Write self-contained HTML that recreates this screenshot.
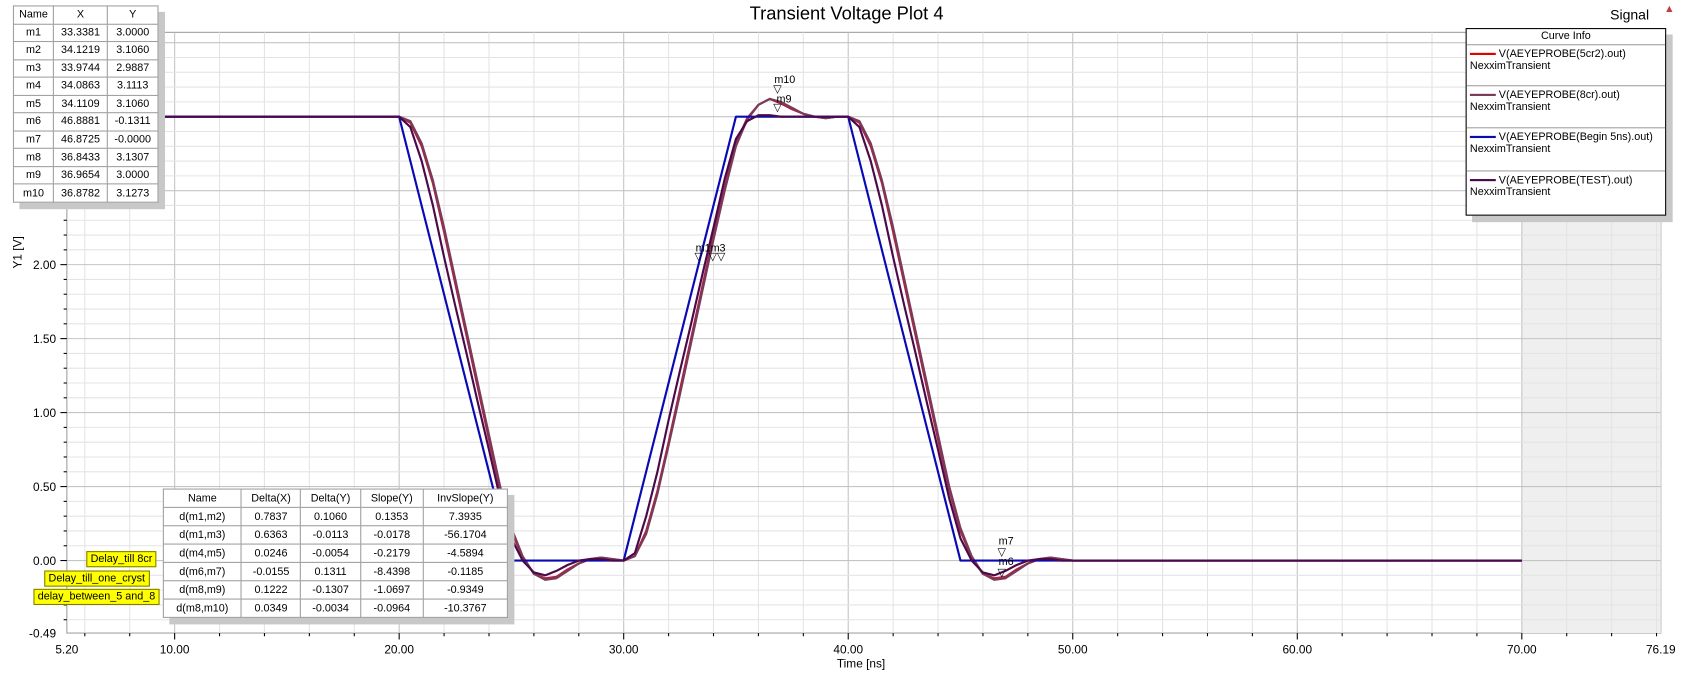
<!DOCTYPE html>
<html><head><meta charset="utf-8"><style>
body{margin:0;background:#fff;font-family:"Liberation Sans",sans-serif;overflow:hidden;width:1691px;height:677px;}
#root{position:absolute;left:0;top:0;width:1568px;height:628px;transform:scale(1.07844);transform-origin:0 0;}
svg{display:block}
.tbl{position:absolute;border-collapse:collapse;background:#fff;font-size:10px;box-shadow:6px 6px 0 #c8c8c8;border:1px solid #000;}
.tbl td{border:1px solid #a0a0a0;text-align:center;padding:0;}
.mk{position:absolute;font-size:10px;}
.yl{position:absolute;background:#ffff00;border:1px solid #808000;font-size:10px;padding:1px 3px;}
</style></head><body>
<div id="root">
<svg id="chart" width="1568" height="628" xmlns="http://www.w3.org/2000/svg" font-family="Liberation Sans, sans-serif">
<rect x="0" y="0" width="1568" height="628" fill="#fff"/>
<g id="grid"></g>
<g id="curves"></g>
<g id="axes"></g>
</svg>
<script>
const xMin=5.2,xMax=76.19,yMin=-0.49,yMax=3.57;
const xTicks=[10,20,30,40,50,60,70];
const xTickLabels=["10.00","20.00","30.00","40.00","50.00","60.00","70.00"];
const yTicks=[0,0.5,1,1.5,2];
const yTickLabels=["0.00","0.50","1.00","1.50","2.00"];
const edgeOffsets=[0,0.5,1,1.5,2,2.5,3,3.5,4,4.5,5,5.5,6,6.5,7,7.5,8,8.5,9,9.5,10];
const edgeTimes=[20,30,40];
const blueT=[5.2,20,25,30,35,40,45,70];
const blueV=[3,3,0,0,3,3,0,0];
const testFall=[3.0,2.93,2.7,2.4,2.05,1.72,1.4,1.07,0.75,0.42,0.15,0.0,-0.08,-0.1,-0.07,-0.03,0,0.01,0.01,0,0];
const testRise=[0,0.05,0.3,0.6,0.95,1.28,1.6,1.93,2.25,2.58,2.85,2.97,3.01,3.01,3.0,3.0,3.0,3.0,3.0,3.0,3.0];
const cr8Fall=[3.0,2.97,2.82,2.57,2.25,1.9,1.55,1.2,0.85,0.5,0.22,0.03,-0.09,-0.13,-0.12,-0.07,-0.02,0.01,0.02,0.01,0];
const cr8Rise=[0,0.03,0.18,0.45,0.78,1.12,1.47,1.82,2.17,2.5,2.8,2.98,3.08,3.12,3.1,3.06,3.02,3.0,2.99,3.0,3.0];
const cr5Fall=[3.0,2.96,2.8,2.55,2.22,1.87,1.52,1.17,0.82,0.48,0.2,0.02,-0.09,-0.12,-0.11,-0.06,-0.02,0.01,0.02,0.01,0];
const cr5Rise=[0,0.03,0.2,0.47,0.8,1.15,1.5,1.85,2.2,2.52,2.82,2.99,3.08,3.12,3.09,3.05,3.02,3.0,2.99,3.0,3.0];

const L=62,R=1540,T=30,B=587;
const sx=v=>L+(v-xMin)/(xMax-xMin)*(R-L);
const sy=v=>B-(v-yMin)/(yMax-yMin)*(B-T);
const NS="http://www.w3.org/2000/svg";
function mk(parent,tag,attrs){const e=document.createElementNS(NS,tag);for(const k in attrs)e.setAttribute(k,attrs[k]);parent.appendChild(e);return e;}
const grid=document.getElementById('grid'),curves=document.getElementById('curves'),axes=document.getElementById('axes');

let pa=mk(grid,'rect',{x:L,y:T,width:R-L,height:B-T,fill:'#fff',stroke:'#a0a0a0'});


let gr=mk(grid,'rect',{x:sx(70),y:T,width:R-sx(70),height:B-T,fill:'#efefef'});


for(let t=6;t<=76;t+=2){const x=sx(t);mk(grid,'line',{x1:x,x2:x,y1:T,y2:B,stroke:t%10===0?'#c4c4c4':'#e4e4e4','stroke-width':1});}
for(let k=-4;k<=35;k++){const y=sy(k/10);mk(grid,'line',{x1:L,x2:R,y1:y,y2:y,stroke:k%5===0?'#c4c4c4':'#e4e4e4','stroke-width':1});}

function edgeSeries(fall,rise){
  const pts=[[xMin,fall[0]]];
  edgeTimes.forEach((t0,i)=>{const arr=i===1?rise:fall;edgeOffsets.forEach((o,j)=>pts.push([t0+o,arr[j]]));});
  pts.push([70,0]);return pts;
}
function drawLine(pts,color,name,w){
  const d=pts.map((p,i)=>(i?'L':'M')+sx(p[0]).toFixed(1)+','+sy(p[1]).toFixed(1)).join('');
  const e=mk(curves,'path',{d:d,fill:'none',stroke:color,'stroke-width':w,'stroke-linejoin':'round'});
  
  
}
drawLine(edgeSeries(cr5Fall,cr5Rise),'#b02040','curve-5cr2',2);
drawLine(edgeSeries(cr8Fall,cr8Rise),'#7a3a5a','curve-8cr',2);
drawLine(blueT.map((t,i)=>[t,blueV[i]]),'#0a0ab4','curve-begin-5ns',2);
drawLine(edgeSeries(testFall,testRise),'#4a0a4a','curve-test',2);

xTicks.forEach((t,i)=>{const e=mk(axes,'text',{x:sx(t),y:606,'font-size':11,'text-anchor':'middle',fill:'#000'});e.textContent=xTickLabels[i];

});
[[xMin,"5.20"],[xMax,"76.19"]].forEach(p=>{const e=mk(axes,'text',{x:sx(p[0]),y:606,'font-size':11,'text-anchor':'middle'});e.textContent=p[1];

});
yTicks.forEach((v,i)=>{const e=mk(axes,'text',{x:52,y:sy(v)+4,'font-size':11,'text-anchor':'end'});e.textContent=yTickLabels[i];

});
let yb=mk(axes,'text',{x:52,y:B+4,'font-size':11,'text-anchor':'end'});yb.textContent="-0.49";


for(let t=6;t<=76;t+=2){mk(axes,'line',{x1:sx(t),x2:sx(t),y1:B,y2:B+(t%10===0?6:3),stroke:'#000'});}
for(let k=-4;k<=35;k++){mk(axes,'line',{x1:L-(k%5===0?6:3),x2:L,y1:sy(k/10),y2:sy(k/10),stroke:'#000'});}
</script>

<div style="position:absolute;left:585px;top:3px;width:400px;text-align:center;font-size:17px;">Transient Voltage Plot 4</div>
<div style="position:absolute;left:1493px;top:6px;font-size:13px;">Signal</div>
<div style="position:absolute;left:1543px;top:3px;color:#c04040;font-size:10px;">&#9650;</div>
<div style="position:absolute;left:776px;top:610px;font-size:11px;">Time [ns]</div>
<div style="position:absolute;left:2px;top:228px;font-size:11px;transform:rotate(-90deg);">Y1 [V]</div>

<table class="tbl" style="left:12px;top:5px;width:135px;height:183px;">
<tr><td>Name</td><td>X</td><td>Y</td></tr>
<tr><td>m1</td><td>33.3381</td><td>3.0000</td></tr>
<tr><td>m2</td><td>34.1219</td><td>3.1060</td></tr>
<tr><td>m3</td><td>33.9744</td><td>2.9887</td></tr>
<tr><td>m4</td><td>34.0863</td><td>3.1113</td></tr>
<tr><td>m5</td><td>34.1109</td><td>3.1060</td></tr>
<tr><td>m6</td><td>46.8881</td><td>-0.1311</td></tr>
<tr><td>m7</td><td>46.8725</td><td>-0.0000</td></tr>
<tr><td>m8</td><td>36.8433</td><td>3.1307</td></tr>
<tr><td>m9</td><td>36.9654</td><td>3.0000</td></tr>
<tr><td>m10</td><td>36.8782</td><td>3.1273</td></tr>
</table>
<table class="tbl" style="left:151px;top:453px;width:320px;height:120px;">
<tr><td>Name</td><td>Delta(X)</td><td>Delta(Y)</td><td>Slope(Y)</td><td>InvSlope(Y)</td></tr>
<tr><td>d(m1,m2)</td><td>0.7837</td><td>0.1060</td><td>0.1353</td><td>7.3935</td></tr>
<tr><td>d(m1,m3)</td><td>0.6363</td><td>-0.0113</td><td>-0.0178</td><td>-56.1704</td></tr>
<tr><td>d(m4,m5)</td><td>0.0246</td><td>-0.0054</td><td>-0.2179</td><td>-4.5894</td></tr>
<tr><td>d(m6,m7)</td><td>-0.0155</td><td>0.1311</td><td>-8.4398</td><td>-0.1185</td></tr>
<tr><td>d(m8,m9)</td><td>0.1222</td><td>-0.1307</td><td>-1.0697</td><td>-0.9349</td></tr>
<tr><td>d(m8,m10)</td><td>0.0349</td><td>-0.0034</td><td>-0.0964</td><td>-10.3767</td></tr>
</table>
<div style="position:absolute;left:1359px;top:26px;width:184px;height:172px;border:1px solid #000;background:#fff;font-size:10px;box-shadow:6px 6px 0 #c8c8c8;">
<div style="text-align:center;border-bottom:1px solid #a0a0a0;height:14px;line-height:14px;">Curve Info</div>
<div style="height:38px;border-bottom:1px solid #a0a0a0;padding:3px 0 0 3px;box-sizing:border-box;"><span style="display:inline-block;width:24px;height:2px;background:#e00000;vertical-align:middle"></span> V(AEYEPROBE(5cr2).out)<br>NexximTransient</div>
<div style="height:39px;border-bottom:1px solid #a0a0a0;padding:3px 0 0 3px;box-sizing:border-box;"><span style="display:inline-block;width:24px;height:2px;background:#7a3a5a;vertical-align:middle"></span> V(AEYEPROBE(8cr).out)<br>NexximTransient</div>
<div style="height:40px;border-bottom:1px solid #a0a0a0;padding:3px 0 0 3px;box-sizing:border-box;"><span style="display:inline-block;width:24px;height:2px;background:#0a0ab4;vertical-align:middle"></span> V(AEYEPROBE(Begin 5ns).out)<br>NexximTransient</div>
<div style="padding:3px 0 0 3px;"><span style="display:inline-block;width:24px;height:2px;background:#4a0a4a;vertical-align:middle"></span> V(AEYEPROBE(TEST).out)<br>NexximTransient</div>
</div>
<div class="yl" style="left:80px;top:511px;">Delay_till 8cr</div>
<div class="yl" style="left:41px;top:529px;">Delay_till_one_cryst</div>
<div class="yl" style="left:31px;top:546px;">delay_between_5 and_8</div>
<div class="mk" style="left:718px;top:69px;">m10</div>
<div class="mk" style="left:720px;top:87px;">m9</div>
<div class="mk" style="left:717px;top:78px;">▽</div>
<div class="mk" style="left:717px;top:95px;">▽</div>
<div class="mk" style="left:645px;top:225px;">m1m3</div>
<div class="mk" style="left:644px;top:233px;">▽</div>
<div class="mk" style="left:657px;top:233px;">▽▽</div>
<div class="mk" style="left:926px;top:497px;">m7</div>
<div class="mk" style="left:925px;top:507px;">▽</div>
<div class="mk" style="left:926px;top:516px;">m6</div>
<div class="mk" style="left:925px;top:526px;">▽</div>
</div>
</body></html>
